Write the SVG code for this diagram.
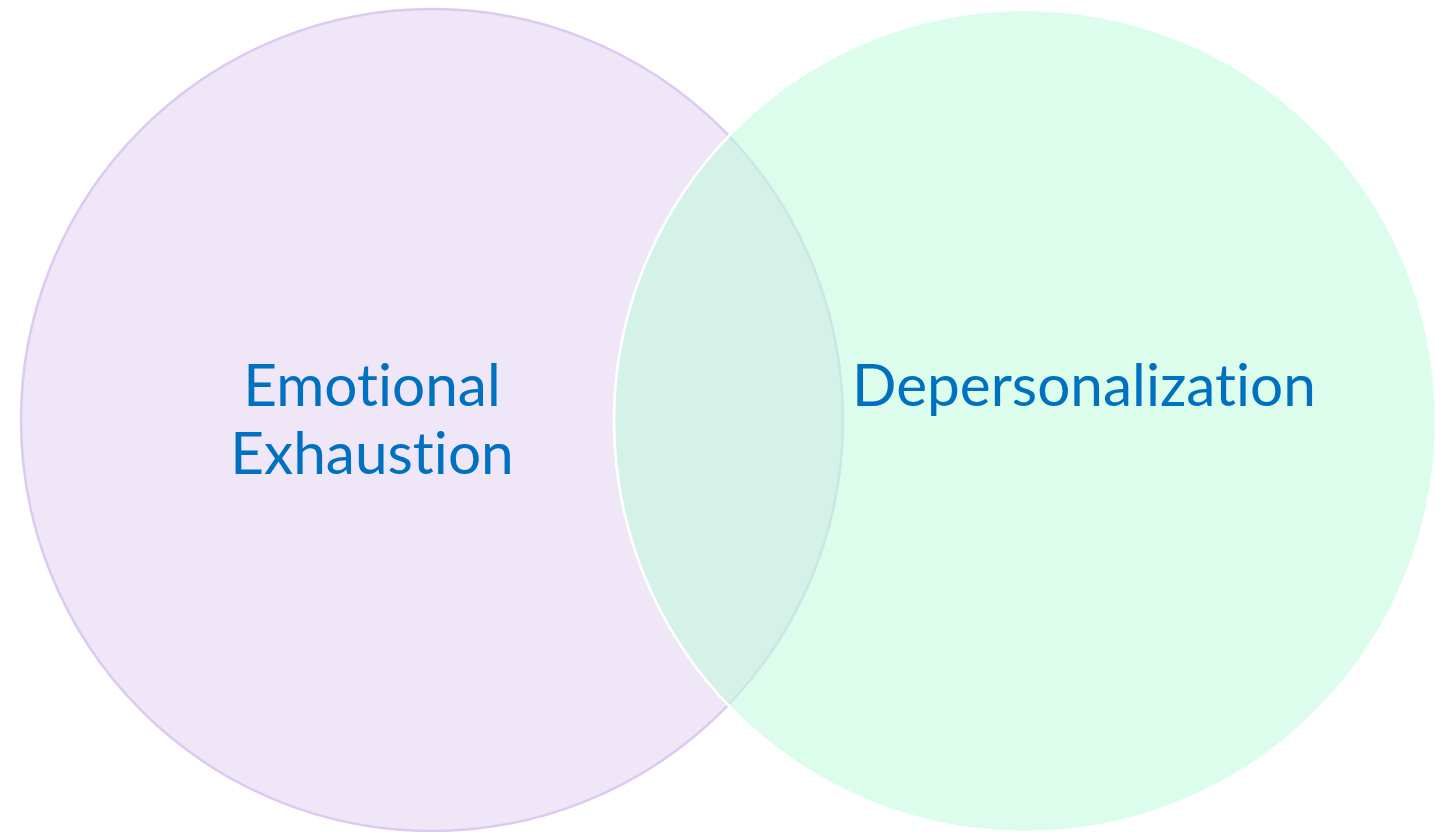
<svg xmlns="http://www.w3.org/2000/svg" width="1450" height="832" viewBox="0 0 1450 832">
<style>
.lbl{font-family:Lato,"Open Sans","Liberation Sans",sans-serif;font-size:58.5px;fill:#0070C0;text-anchor:middle;font-variant-ligatures:none}
</style>
<rect width="1450" height="832" fill="#FFFFFF"/>
<g id="emotional-exhaustion">
<circle cx="432" cy="420" r="411" fill="#EFE6F7" stroke="#DCCAF0" stroke-width="2.5"/>
<text class="lbl" x="372" y="406">Emotional</text>
<text class="lbl" x="372" y="474">Exhaustion</text>
</g>
<g id="depersonalization">
<circle cx="1025" cy="421" r="411" fill="#BFFBDC" fill-opacity="0.55" stroke="#FFFFFF" stroke-width="2.5"/>
<text class="lbl" x="1084" y="406">Depersonalization</text>
</g>
<g id="connectors"/>
</svg>
